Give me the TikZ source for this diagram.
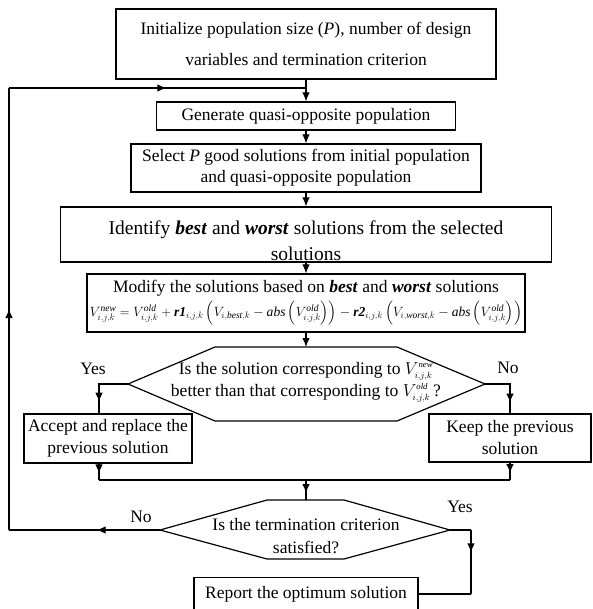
\documentclass[tikz,border=0pt]{standalone}
\usepackage{fontspec}
\setmainfont{Liberation Serif}
\usepackage{amsmath}
\usetikzlibrary{arrows.meta}
\usetikzlibrary{decorations.markings}
\usetikzlibrary{positioning}

\tikzset{
  procbox/.style={draw,line width=1.2pt,align=center,inner sep=0pt,font=\fontsize{17.5}{22}\selectfont},
  flow/.style={line width=1.1pt},
  arrowend/.style={-{Latex[length=9pt,width=7.5pt]}},
  midarrow/.style={postaction={decorate},decoration={markings,mark=at position #1 with {\arrow{Latex[length=9pt,width=7.5pt]}}}},
  midarrow/.default=0.5,
  choice/.style={font=\fontsize{17.5}{20}\selectfont}
}

\begin{document}
\begin{tikzpicture}[x=1pt,y=-1pt]
\useasboundingbox (0,0) rectangle (592,609);

% process boxes down the middle
\node[procbox,minimum width=380pt,minimum height=70pt,font=\fontsize{17.5}{31}\selectfont] (init) at (306,44) {Initialize population size (\textit{P}), number of design\\variables and termination criterion};
\node[procbox,minimum width=299pt,minimum height=28pt] (gen) at (306,116) {Generate quasi-opposite population};
\node[procbox,minimum width=350pt,minimum height=48pt,font=\fontsize{17.5}{21}\selectfont] (sel) at (306,168) {Select \textit{P} good solutions from initial population\\and quasi-opposite population};
\node[procbox,minimum width=491pt,minimum height=55pt,font=\fontsize{19.5}{26}\selectfont] (ident) at (306,234.5) {\rule{0pt}{26pt}Identify \textbf{\textit{best}} and \textbf{\textit{worst}} solutions from the selected\\solutions};
\node[procbox,minimum width=438pt,minimum height=58pt,font=\fontsize{17.5}{21}\selectfont] (modify) at (306,303) {Modify the solutions based on \textbf{\textit{best}} and \textbf{\textit{worst}} solutions\\[3pt]
\resizebox{432pt}{!}{$V^{\mathit{new}}_{i,j,k}=V^{\mathit{old}}_{i,j,k}+\textbf{\textit{r1}}_{i,j,k}\left(V_{i,\mathit{best},k}-\mathit{abs}\left(V^{\mathit{old}}_{i,j,k}\right)\right)-\textbf{\textit{r2}}_{i,j,k}\left(V_{i,\mathit{worst},k}-\mathit{abs}\left(V^{\mathit{old}}_{i,j,k}\right)\right)$}};

% first decision
\coordinate (better-w) at (128,384);
\coordinate (better-e) at (485,384);
\coordinate (better-n) at (306,347);
\draw[line width=1.2pt] (better-w) -- (215,347) -- (397,347) -- (better-e) -- (397,421) -- (215,421) -- cycle;
\node[align=center,font=\fontsize{17.5}{22}\selectfont] (better) at (306,382) {Is the solution corresponding to $V^{\scriptscriptstyle\mathit{new}}_{\scriptscriptstyle i,j,k}$\\better than that corresponding to $V^{\scriptscriptstyle\mathit{old}}_{\scriptscriptstyle i,j,k}$\,?};

\node[procbox,minimum width=168pt,minimum height=49pt] (accept) at (108,438.5) {Accept and replace the\\previous solution};
\node[procbox,minimum width=162pt,minimum height=48pt] (keep) at (510,438) {Keep the previous\\solution};

\node[choice] (yes1) at (93,369) {Yes};
\node[choice] (no1) at (508,368) {No};

% second decision
\coordinate (stop-w) at (160,530);
\coordinate (stop-e) at (450,530);
\coordinate (stop-n) at (306,500);
\draw[line width=1.2pt] (stop-w) -- (267,500) -- (344,500) -- (stop-e) -- (344,559) -- (267,559) -- cycle;
\node[align=center,font=\fontsize{17.5}{23}\selectfont] (stop) at (306,536) {Is the termination criterion\\satisfied?};

\node[procbox,minimum width=224pt,minimum height=33pt] (report) at (306,594) {Report the optimum solution};

\node[choice] (no2) at (141,517) {No};
\node[choice] (yes2) at (460,507) {Yes};

% connectors
\coordinate (loop-a) at (9,530);
\coordinate (loop-b) at (9,88);
\coordinate (loop-c) at (306,88);
\coordinate (join-l) at (99,480);
\coordinate (join-r) at (510,480);
\coordinate (join-c) at (306,480);
\coordinate (yes-a) at (471,530);

\draw[flow,arrowend] (init) -- (gen);
\draw[flow,arrowend] (gen) -- (sel);
\draw[flow,arrowend] (sel) -- (ident);
\draw[flow,arrowend] (ident) -- (modify);
\draw[flow,arrowend] (modify) -- (better-n);

\draw[flow,midarrow=0.8] (better-w) -| ([xshift=-9pt]accept.north);
\draw[flow,midarrow=0.8] (better-e) -| (keep.north);
\draw[flow,midarrow=0.6] ([xshift=-9pt]accept.south) -- (join-l);
\draw[flow,midarrow=0.6] (keep.south) -- (join-r);
\draw[flow] (join-l) -- (join-r);
\draw[flow,midarrow=0.65] (join-c) -- (stop-n);

\draw[flow,midarrow=0.42] (stop-w) -- (loop-a);
\draw[flow,midarrow] (loop-a) -- (loop-b);
\draw[flow,midarrow=0.53] (loop-b) -- (loop-c);

\draw[flow] (stop-e) -- (yes-a);
\draw[flow,midarrow=0.35] (yes-a) -- (yes-a |- report.east);
\draw[flow] (yes-a |- report.east) -- (report.east);

\end{tikzpicture}
\end{document}
